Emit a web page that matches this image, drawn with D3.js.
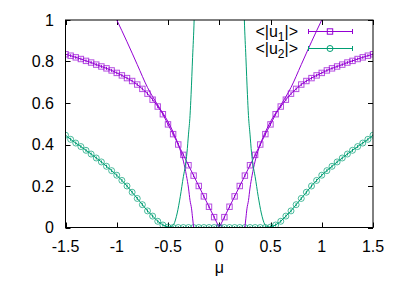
<!DOCTYPE html>
<html><head><meta charset="utf-8">
<script src="https://cdn.jsdelivr.net/npm/d3@7"></script>
<style>
html,body{margin:0;padding:0;background:#fff;}
svg{display:block;font-family:"Liberation Sans",Arial,sans-serif;}
</style></head>
<body>
<svg id="c" width="403" height="282"></svg>
<script>
// ---- data ----
const mu = [-1.5,-1.45,-1.4,-1.35,-1.3,-1.25,-1.2,-1.15,-1.1,-1.05,-1.0,-0.95,-0.9,-0.85,-0.8,-0.75,-0.7,-0.65,-0.6,-0.55,-0.5,-0.45,-0.4,-0.35,-0.3,-0.25,-0.2,-0.15,-0.1,-0.05,0,
  0.05,0.1,0.15,0.2,0.25,0.3,0.35,0.4,0.45,0.5,0.55,0.6,0.65,0.7,0.75,0.8,0.85,0.9,0.95,1.0,1.05,1.1,1.15,1.2,1.25,1.3,1.35,1.4,1.45,1.5];
const u1 = [0.835,0.828,0.820,0.812,0.803,0.795,0.785,0.776,0.767,0.757,0.745,0.733,0.720,0.706,0.689,0.668,0.645,0.616,0.583,0.546,0.497,0.450,0.400,0.350,0.300,0.250,0.200,0.150,0.100,0.050,0.000,
  0.050,0.100,0.150,0.200,0.250,0.300,0.350,0.400,0.450,0.497,0.546,0.583,0.616,0.645,0.668,0.689,0.706,0.720,0.733,0.745,0.757,0.767,0.776,0.785,0.795,0.803,0.812,0.820,0.828,0.835];
const u2 = [0.445,0.425,0.407,0.390,0.372,0.354,0.335,0.316,0.295,0.274,0.252,0.227,0.200,0.170,0.140,0.110,0.080,0.055,0.030,0.012,0.002,0,0,0,0,0,0,0,0,0,0,
  0,0,0,0,0,0,0,0,0,0.002,0.012,0.030,0.055,0.080,0.110,0.140,0.170,0.200,0.227,0.252,0.274,0.295,0.316,0.335,0.354,0.372,0.390,0.407,0.425,0.445];
// thin curves, one branch given as |mu|, drawn on both sides
const fit1Mu  = [0.25,0.26,0.27,0.285,0.30,0.32,0.35,0.40,0.45,0.50,0.60,0.70,0.80,0.90,1.00,1.05];
const fit1Val = [0,0.045,0.09,0.13,0.19,0.25,0.32,0.40,0.46,0.51,0.59,0.675,0.785,0.895,1.0,1.05];
const fit2Mu  = [0.23,0.245,0.26,0.275,0.285,0.30,0.315,0.33,0.35,0.38,0.41,0.445,0.47,0.50];
const fit2Val = [1.3,1.0,0.82,0.64,0.54,0.45,0.36,0.30,0.245,0.15,0.07,0.014,0.004,0];
const xTicks = [-1.5,-1,-0.5,0,0.5,1,1.5];
const yTicks = [0,0.2,0.4,0.6,0.8,1];
const seriesNames = ["u1","u2"];

const C1 = "#9400d3", C2 = "#009e73";
const svg = d3.select("#c");
const L = 65.5, R = 373, T = 20, B = 227.5;
const x = d3.scaleLinear().domain([-1.5,1.5]).range([L,R]);
const y = d3.scaleLinear().domain([0,1]).range([B,T]);

svg.append("defs").append("clipPath").attr("id","clip")
  .append("rect").attr("x",L).attr("y",T).attr("width",R-L).attr("height",B-T);

// ticks (inward, mirrored)
const tk = svg.append("g").attr("stroke","#000").attr("stroke-width",1);
xTicks.forEach(v=>{
  const px = Math.round(x(v))+0.5;
  tk.append("line").attr("x1",px).attr("x2",px).attr("y1",B).attr("y2",B-5);
  tk.append("line").attr("x1",px).attr("x2",px).attr("y1",T).attr("y2",T+5);
});
yTicks.forEach(v=>{
  const py = Math.round(y(v))+0.5;
  tk.append("line").attr("x1",L).attr("x2",L+5).attr("y1",py).attr("y2",py);
  tk.append("line").attr("x1",R).attr("x2",R-5).attr("y1",py).attr("y2",py);
});
// labels
const fmt = v => String(v);
svg.append("g").selectAll("text").data(xTicks).join("text")
  .attr("x",d=>x(d)).attr("y",252).attr("text-anchor","middle")
  .attr("font-size",16).text(fmt);
svg.append("g").selectAll("text").data(yTicks).join("text")
  .attr("x",54).attr("y",d=>y(d)+5.6).attr("text-anchor","end")
  .attr("font-size",16).text(fmt);
svg.append("text").attr("x",x(0)).attr("y",273).attr("text-anchor","middle")
  .attr("font-size",16).text("μ");

const plot = svg.append("g").attr("clip-path","url(#clip)");
const line = d3.line().x(d=>x(d[0])).y(d=>y(d[1]));
const smooth = d3.line().x(d=>x(d[0])).y(d=>y(d[1])).curve(d3.curveMonotoneX);

function series(vals, color, shape){
  const pts = mu.map((m,i)=>[m, vals[i]]);
  plot.append("path").attr("d",line(pts)).attr("fill","none").attr("stroke",color).attr("stroke-width",1);
  const g = plot.append("g").attr("stroke",color).attr("fill","none").attr("stroke-width",1);
  pts.forEach(p=>{
    const px = x(p[0]), py = y(p[1]);
    g.append("line").attr("x1",px).attr("x2",px).attr("y1",py-1.5).attr("y2",py+1.5);
    if(shape==="sq") g.append("rect").attr("x",px-2.7).attr("y",py-2.7).attr("width",5.4).attr("height",5.4).attr("stroke-opacity",0.7);
    else g.append("circle").attr("cx",px).attr("cy",py).attr("r",3).attr("stroke-opacity",0.7);
  });
}
series(u1, C1, "sq");
series(u2, C2, "ci");

function fitBranches(ms, vs, color){
  const right = ms.map((m,i)=>[m, vs[i]]);
  const left = ms.map((m,i)=>[-m, vs[i]]).reverse();
  [left,right].forEach(b=>plot.append("path").attr("d",smooth(b)).attr("fill","none")
    .attr("stroke",color).attr("stroke-width",1));
}
fitBranches(fit1Mu, fit1Val, C1);
fitBranches(fit2Mu, fit2Val, C2);

// border
svg.append("rect").attr("x",L).attr("y",T).attr("width",R-L).attr("height",B-T)
  .attr("fill","none").attr("stroke","#000").attr("stroke-width",1);

// legend
const leg = svg.append("g");
[[C1,"sq",31,"1"],[C2,"ci",48,"2"]].forEach(([c,shape,ly,sub])=>{
  const t = leg.append("text").attr("x",298).attr("y",ly+5.5).attr("text-anchor","end").attr("font-size",16);
  t.append("tspan").text("<|u");
  t.append("tspan").attr("font-size",12).attr("dy",4).text(sub);
  t.append("tspan").attr("dy",-4).text("|>");
  const g = leg.append("g").attr("stroke",c).attr("fill","none");
  g.append("line").attr("x1",308).attr("x2",352).attr("y1",ly+0.5).attr("y2",ly+0.5);
  g.append("line").attr("x1",308.5).attr("x2",308.5).attr("y1",ly-2).attr("y2",ly+3);
  g.append("line").attr("x1",352.5).attr("x2",352.5).attr("y1",ly-2).attr("y2",ly+3);
  if(shape==="sq") g.append("rect").attr("x",327.3).attr("y",ly-2.2).attr("width",5.4).attr("height",5.4);
  else g.append("circle").attr("cx",330).attr("cy",ly+0.5).attr("r",3);
});
</script>
</body></html>
